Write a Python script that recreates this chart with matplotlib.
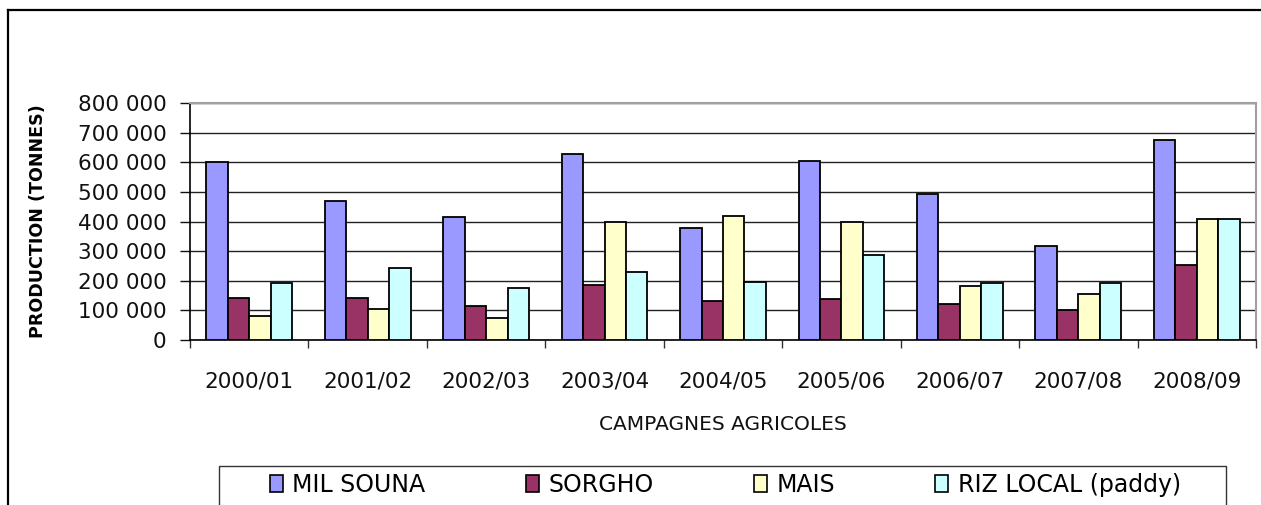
import numpy as np
import matplotlib
matplotlib.use('Agg')
import matplotlib.pyplot as plt
from matplotlib.lines import Line2D
from matplotlib.patches import Patch, Rectangle
from matplotlib.ticker import FuncFormatter, FixedLocator

plt.rcParams['font.family'] = ['DejaVu Sans']

campagnes = ['2000/01', '2001/02', '2002/03', '2003/04', '2004/05',
             '2005/06', '2006/07', '2007/08', '2008/09']
mil_souna = [600000, 469000, 414000, 627000, 379000, 605000, 494000, 318000, 676000]
sorgho = [141000, 141000, 115000, 186000, 132000, 139000, 120000, 100000, 253000]
mais = [81000, 105000, 74000, 398000, 419000, 398000, 181000, 156000, 408000]
riz_local = [191000, 242000, 175000, 231000, 196000, 287000, 193000, 193000, 408000]

series = [
    ('MIL SOUNA', mil_souna, '#9999FF'),
    ('SORGHO', sorgho, '#993366'),
    ('MAIS', mais, '#FFFFCC'),
    ('RIZ LOCAL (paddy)', riz_local, '#CCFFFF'),
]

W, H = 1261, 505
fig = plt.figure(figsize=(W / 100, H / 100), dpi=100)
fig.patch.set_facecolor('white')
ax = fig.add_axes([190 / W, 1 - 340 / H, (1256 - 190) / W, (340 - 103) / H])

x = np.arange(len(campagnes))
bw = 0.181
for i, (name, vals, col) in enumerate(series):
    ax.bar(x + (i - 1.5) * bw, vals, width=bw, color=col,
           edgecolor='black', linewidth=1.3, label=name, zorder=3)

ax.set_xlim(-0.5, len(campagnes) - 0.5)
ax.set_ylim(0, 800000)
ax.set_yticks(np.arange(0, 800001, 100000))
ax.yaxis.set_major_formatter(FuncFormatter(lambda v, p: f'{int(v):,}'.replace(',', ' ')))
ax.grid(axis='y', color='#222222', linewidth=1.0, zorder=0)
ax.set_axisbelow(True)

ax.set_xticks(x)
ax.set_xticklabels(campagnes)
ax.xaxis.set_minor_locator(FixedLocator(np.arange(-0.5, len(campagnes), 1.0)))
ax.tick_params(axis='x', which='major', length=0, pad=23, labelsize=15.5, colors='#111111')
ax.tick_params(axis='x', which='minor', length=6, width=1, direction='out', color='#333333')
ax.tick_params(axis='y', length=7, width=1, direction='out', pad=10, labelsize=15.5,
               colors='#111111')

for s in ['left', 'bottom']:
    ax.spines[s].set_color('black')
    ax.spines[s].set_linewidth(1.2)
for s in ['top', 'right']:
    ax.spines[s].set_color('#A0A0A0')
    ax.spines[s].set_linewidth(1.5)

ax.set_ylabel('PRODUCTION (TONNES)', fontsize=12.6, fontweight='bold')
ax.yaxis.set_label_coords((47 - 190) / 1066, 0.5)
ax.set_xlabel('CAMPAGNES AGRICOLES', fontsize=14.5, color='#111111')
ax.xaxis.set_label_coords(0.5, (340 - 424) / 237)
ax.xaxis.label.set_verticalalignment('center')

# legend entries, frame drawn separately (it runs past the bottom edge)
handles = [Patch(facecolor=c, edgecolor='black', linewidth=1.2, label=n) for n, _, c in series]
leg = fig.legend(handles=handles, ncol=4, loc='center left',
                 bbox_to_anchor=(270 / W, 1 - 485 / H),
                 fontsize=17, frameon=False,
                 handlelength=0.55, handleheight=0.7, handletextpad=0.4,
                 columnspacing=4.25, borderpad=0, borderaxespad=0)
fig.add_artist(Rectangle((219 / W, -0.1), (1226 - 219) / W, 1 - 466 / H + 0.1,
                         transform=fig.transFigure, facecolor='none',
                         edgecolor='#333333', linewidth=1.0))

# outer chart frame (extends past right and bottom of the picture)
fig.add_artist(Line2D([8 / W, 1.0], [1 - 10 / H, 1 - 10 / H], color='black', linewidth=1.6))
fig.add_artist(Line2D([8 / W, 8 / W], [0.0, 1 - 10 / H], color='black', linewidth=1.6))

fig.savefig('out.png', dpi=100)
